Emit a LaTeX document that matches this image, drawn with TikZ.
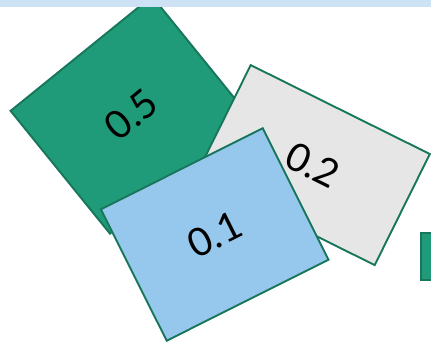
\documentclass[tikz,border=0pt]{standalone}
\usepackage{fontspec}
\setmainfont{Lato}
\definecolor{gfill}{HTML}{1F9B79}
\definecolor{edge}{HTML}{18765B}
\definecolor{grfill}{HTML}{E6E6E6}
\definecolor{bfill}{HTML}{95C8EC}
\definecolor{band}{HTML}{CDE3F5}
\tikzset{
  card/.style={draw=edge, line width=1.9pt, inner sep=0pt, rectangle,
    font=\fontsize{39}{44}\selectfont, text=black},
}
\begin{document}
\begin{tikzpicture}[x=1pt,y=1pt]
\useasboundingbox (0,0) rectangle (431,342);
\clip (0,0) rectangle (431,342);
\node[card, fill=gfill, minimum width=182pt, minimum height=158pt, rotate=39] (g) at (131,227) {0.5};
\node[card, fill=grfill, minimum width=200pt, minimum height=124pt, rotate=-26.4] (r) at (312.7,176.9) {0.2};
\node[card, fill=bfill, minimum width=181pt, minimum height=147pt, rotate=26.6] (b) at (214.7,107.5) {0.1};
\node[draw=edge, line width=1.9pt, fill=gfill, inner sep=0pt, minimum width=47pt, minimum height=47pt, anchor=north west] (s) at (420,110) {};
\fill[band] (0,335) rectangle (431,342);
\end{tikzpicture}
\end{document}
